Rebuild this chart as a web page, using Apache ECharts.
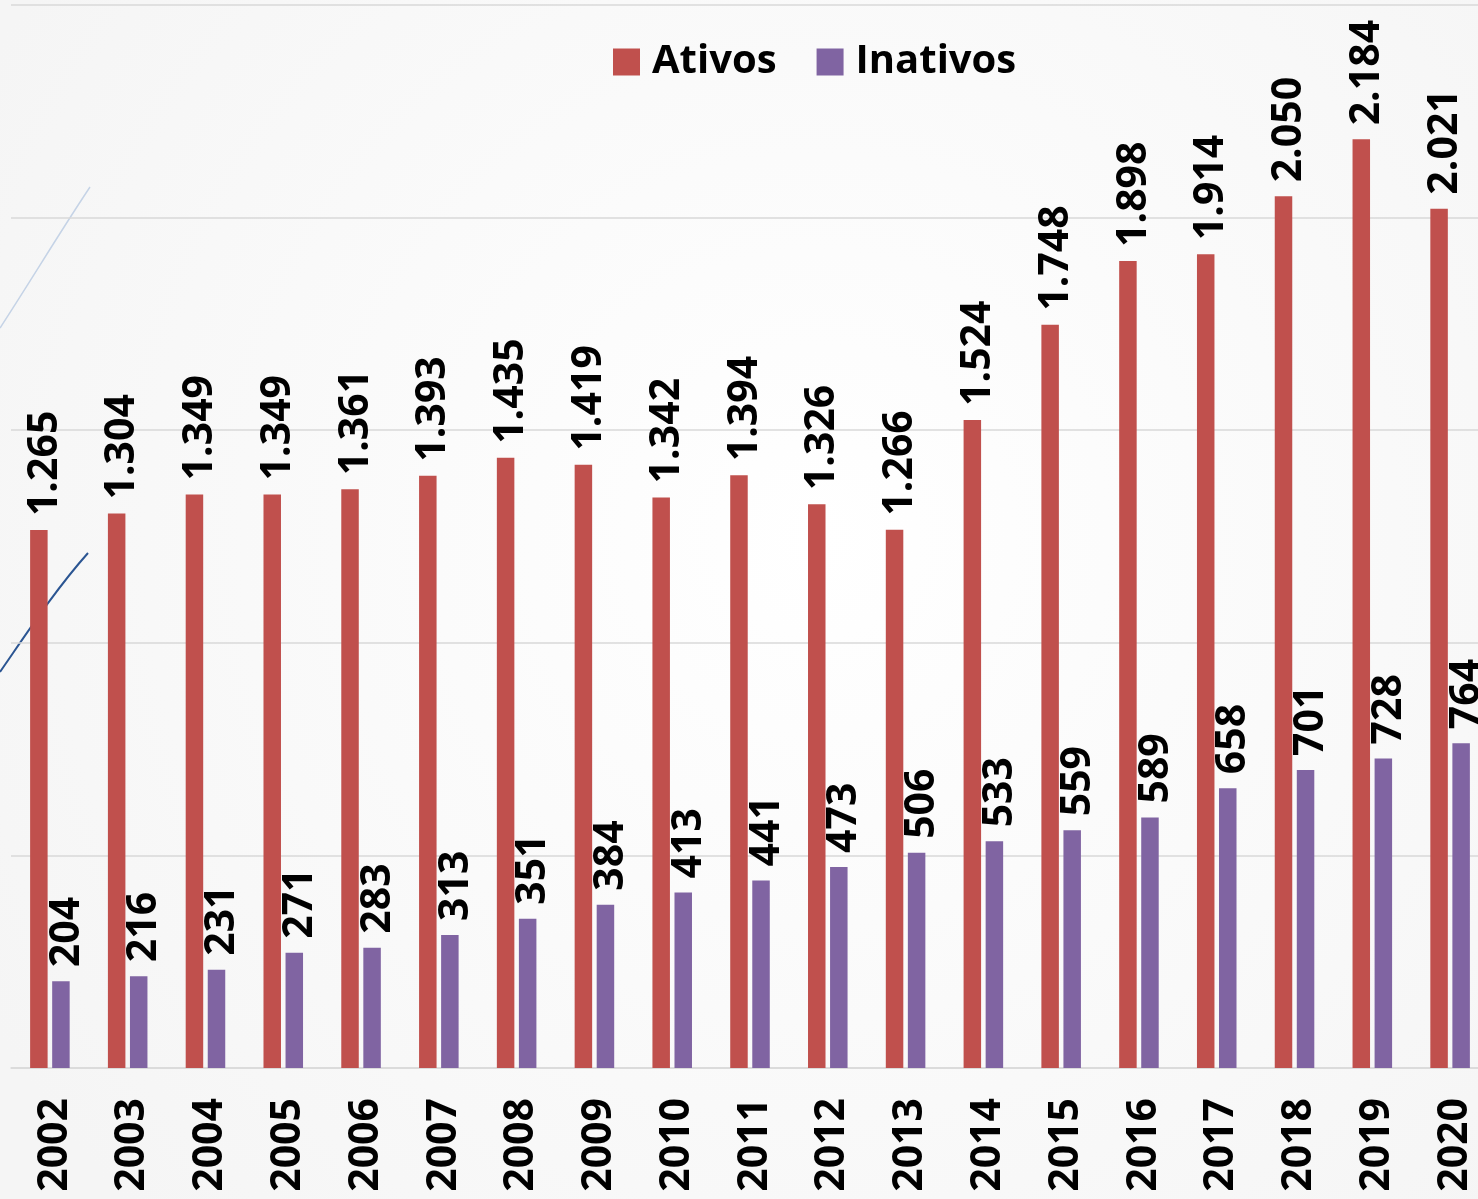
<!DOCTYPE html>
<html>
<head>
<meta charset="utf-8">
<script src="https://cdn.jsdelivr.net/npm/echarts@6/dist/echarts.min.js"></script>
<style>
html,body{margin:0;padding:0;background:#fafafa;overflow:hidden;width:1478px;height:1199px;}
#c{width:1489px;height:1199px;}
</style>
</head>
<body>
<div id="c"></div>
<script>
var years = ['2002','2003','2004','2005','2006','2007','2008','2009','2010','2011','2012','2013','2014','2015','2016','2017','2018','2019','2020'];
var ativos = [1265,1304,1349,1349,1361,1393,1435,1419,1342,1394,1326,1266,1524,1748,1898,1914,2050,2184,2021];
var inativos = [204,216,231,271,283,313,351,384,413,441,473,506,533,559,589,658,701,728,764];
var seriesNames = ['Ativos','Inativos'];

function fmt(v){ return String(v).replace(/\B(?=(\d{3})+(?!\d))/g, '.'); }

var FONT = '"Open Sans", "Liberation Sans", sans-serif';
var labelStyle = {
  show: true, position: 'top', rotate: 90, align: 'left', verticalAlign: 'middle',
  distance: 14, offset: [0, 6], fontSize: 41, fontWeight: 'bold', fontFamily: FONT, color: '#000',
  formatter: function(p){ return fmt(p.value); }
};

var chart = echarts.init(document.getElementById('c'), null, {renderer:'canvas'});
chart.setOption({
  backgroundColor: {
    type: 'radial', x: 0.55, y: 0.45, r: 0.8,
    colorStops: [{offset:0,color:'#ffffff'},{offset:1,color:'#f5f5f5'}]
  },
  animation: false,
  graphic: [
    {type:'bezierCurve', z:0, shape:{x1:0,y1:328,x2:90,y2:187,cpx1:30,cpy1:282,cpx2:60,cpy2:232},
     style:{stroke:'#c5d3e6', lineWidth:1.5, fill:null}},
    {type:'bezierCurve', z:0, shape:{x1:0,y1:672,x2:88,y2:553,cpx1:25,cpy1:636,cpx2:55,cpy2:590},
     style:{stroke:'#2b5592', lineWidth:2, fill:null}}
  ],
  legend: {
    data: seriesNames, icon: 'rect', itemWidth: 27, itemHeight: 27, itemGap: 40,
    left: 613, top: 42, padding: 0,
    textStyle: {fontSize: 40, fontWeight: 'bold', fontFamily: FONT, color: '#000', padding:[0,0,0,7]}
  },
  grid: {left: 11, right: 0, top: 5, bottom: 131, containLabel: false},
  xAxis: {
    type: 'category', data: years,
    axisLine: {show: true, lineStyle: {color: '#d9d9d9', width: 1.5}},
    axisTick: {show: false},
    axisLabel: {
      rotate: 90, margin: 30, interval: 0,
      formatter: function(v){ return '{y|' + v + '}'; },
      rich: {y: {fontSize: 41, fontWeight: 'bold', fontFamily: FONT, color: '#000', padding: [10,0,0,0]}}
    }
  },
  yAxis: {
    type: 'value', min: 0, max: 2500, interval: 500,
    axisLine: {show: false}, axisTick: {show: false}, axisLabel: {show: false},
    splitLine: {lineStyle: {color: '#d9d9d9', width: 1.5}}
  },
  series: [
    {name: seriesNames[0], type: 'bar', data: ativos, barWidth: 17.5, barGap: '26%', barCategoryGap: '49%',
     itemStyle: {color: '#c0504d'}, label: labelStyle},
    {name: seriesNames[1], type: 'bar', data: inativos, barWidth: 17.5, barGap: '26%',
     itemStyle: {color: '#8064a2'}, label: labelStyle}
  ]
});
</script>
</body>
</html>
